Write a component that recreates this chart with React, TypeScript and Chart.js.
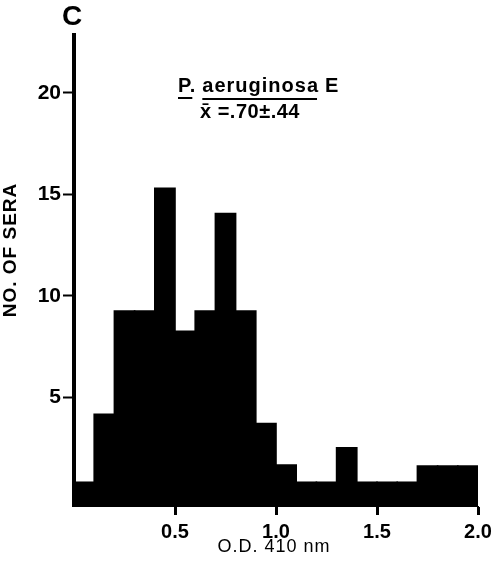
import React, { useEffect, useRef } from "react";
import { Chart, registerables } from "chart.js";

Chart.register(...registerables);

// bin centres of O.D. 410 nm histogram (bin width 0.1)
const binCenters = [0.05, 0.15, 0.25, 0.35, 0.45, 0.55, 0.65, 0.75, 0.85, 0.95, 1.05, 1.15, 1.25, 1.35, 1.45, 1.55, 1.65, 1.75, 1.85, 1.95];
// number of sera
const seraCounts = [0.8, 4.15, 9.25, 9.25, 15.3, 8.25, 9.25, 14.05, 9.25, 3.7, 1.65, 0.8, 0.8, 2.5, 0.8, 0.8, 0.8, 1.6, 1.6, 1.6];
const yTicks = [5, 10, 15, 20];
const xTicks = [0.5, 1.0, 1.5, 2.0];
const panelLetter = "C";
const titleOrganism = "P. aeruginosa";
const titleSuffix = "E";
const titleStats = "x\u0304 =.70\u00B1.44";
const yTitle = "NO. OF SERA";
const xTitle = "O.D. 410 nm";

const FONT = "'Liberation Sans', Arial, Helvetica, sans-serif";

const textPlugin = {
  id: "annotText",
  afterDraw(chart: any) {
    const ctx = chart.ctx as CanvasRenderingContext2D;
    ctx.save();
    ctx.fillStyle = "#000";
    ctx.strokeStyle = "#000";
    ctx.textBaseline = "middle";

    // panel letter
    ctx.font = `bold 28px ${FONT}`;
    ctx.textAlign = "center";
    ctx.fillText(panelLetter, 72, 17);

    // title line 1
    (ctx as any).letterSpacing = "1px";
    ctx.font = `bold 20px ${FONT}`;
    ctx.textAlign = "left";
    const parts = titleOrganism.split(" ");
    let x = 178;
    const y1 = 86;
    const w0 = ctx.measureText(parts[0]).width;
    ctx.fillText(parts[0], x, y1);
    ctx.fillRect(x, 97, w0 - 4, 2);
    x += w0 + 6;
    const w1 = ctx.measureText(parts[1]).width;
    ctx.fillText(parts[1], x, y1);
    ctx.fillRect(x, 98, w1 - 2, 2);
    x += w1 + 6;
    ctx.fillText(titleSuffix, x, y1);

    // title line 2
    ctx.font = `bold 20px ${FONT}`;
    (ctx as any).letterSpacing = "0.5px";
    ctx.fillText(titleStats, 200, 112);

    // y title
    ctx.save();
    ctx.translate(11, 250);
    ctx.rotate(-Math.PI / 2);
    ctx.textAlign = "center";
    (ctx as any).letterSpacing = "1px";
    ctx.font = `bold 19px ${FONT}`;
    ctx.fillText(yTitle, 0, 0);
    ctx.restore();

    // x title
    ctx.textAlign = "center";
    (ctx as any).letterSpacing = "1px";
    ctx.font = `18px ${FONT}`;
    ctx.fillText(xTitle, 274, 547);
    ctx.restore();
  },
};

export default function App() {
  const ref = useRef<HTMLCanvasElement>(null);
  useEffect(() => {
    document.body.style.margin = "0";
    const chart = new Chart(ref.current!, {
      type: "bar",
      data: {
        datasets: [
          {
            data: binCenters.map((c, i) => ({ x: c, y: seraCounts[i] })),
            backgroundColor: "#000",
            borderWidth: 0,
            barPercentage: 1,
            categoryPercentage: 1,
            inflateAmount: 0.8,
            base: -0.37,
          } as any,
        ],
      },
      options: {
        animation: false,
        responsive: false,
        events: [],
        layout: { padding: { top: 35, right: 16, left: 0, bottom: 0 } },
        plugins: { legend: { display: false }, tooltip: { enabled: false }, title: { display: false } },
        scales: {
          x: {
            type: "linear",
            min: 0,
            max: 2.0,
            offset: false,
            afterBuildTicks: (s: any) => {
              s.ticks = xTicks.map((v) => ({ value: v }));
            },
            afterFit: (s: any) => {
              s.height = 64;
              s.paddingLeft = 0;
              s.paddingRight = 0;
            },
            ticks: {
              color: "#000",
              font: { family: FONT, size: 20, weight: "bold" },
              padding: 5,
              maxRotation: 0,
              autoSkip: false,
              callback: (v: any) => Number(v).toFixed(1),
            },
            grid: {
              offset: false,
              drawOnChartArea: false,
              drawTicks: true,
              tickLength: 9,
              tickWidth: 3,
              tickColor: "#000",
            },
            border: { display: true, color: "#000", width: 1 },
          },
          y: {
            type: "linear",
            min: -0.37,
            max: 22.86,
            beginAtZero: false,
            afterBuildTicks: (s: any) => {
              s.ticks = yTicks.map((v) => ({ value: v }));
            },
            afterFit: (s: any) => {
              s.width = 74;
              s.paddingTop = 0;
              s.paddingBottom = 0;
            },
            ticks: {
              color: "#000",
              font: { family: FONT, size: 21, weight: "bold" },
              padding: 2,
              autoSkip: false,
              callback: (v: any) => String(v),
            },
            grid: {
              drawOnChartArea: false,
              drawTicks: true,
              tickLength: 11,
              tickWidth: 2,
              tickColor: "#000",
            },
            border: { display: true, color: "#000", width: 4 },
          },
        },
      },
      plugins: [textPlugin],
    } as any);
    return () => chart.destroy();
  }, []);
  return (
    <div style={{ width: 494, height: 570, background: "#fff" }}>
      <canvas ref={ref} width={494} height={570} />
    </div>
  );
}
